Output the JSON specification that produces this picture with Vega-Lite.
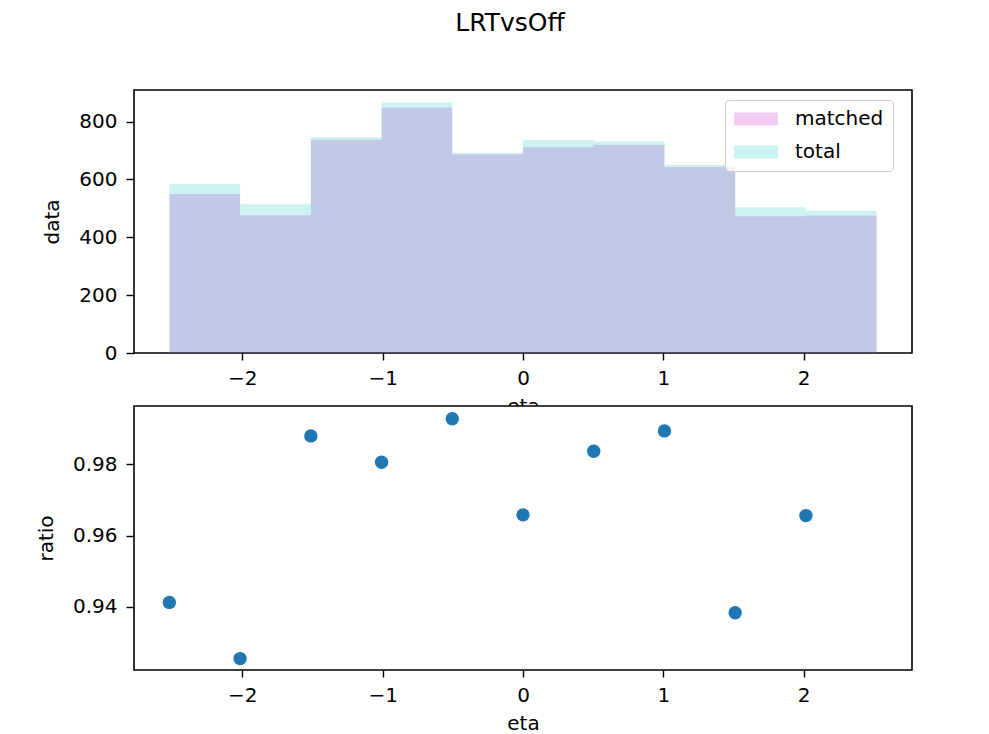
{
  "$schema": "https://vega.github.io/schema/vega-lite/v6.json",
  "background": "white",
  "padding": {"left": 35, "top": 11, "right": 5, "bottom": 5},
  "title": {
    "text": "LRTvsOff",
    "font": "DejaVu Sans",
    "fontSize": 25,
    "fontWeight": "normal",
    "color": "black",
    "anchor": "middle",
    "frame": "group",
    "dx": -13,
    "offset": 53
  },
  "datasets": {
    "hist": [
      {"series": "matched", "lo": -2.52, "hi": -2.016, "count": 550},
      {"series": "matched", "lo": -2.016, "hi": -1.512, "count": 476},
      {"series": "matched", "lo": -1.512, "hi": -1.008, "count": 737},
      {"series": "matched", "lo": -1.008, "hi": -0.504, "count": 849},
      {"series": "matched", "lo": -0.504, "hi": 0, "count": 687},
      {"series": "matched", "lo": 0, "hi": 0.504, "count": 711},
      {"series": "matched", "lo": 0.504, "hi": 1.008, "count": 719},
      {"series": "matched", "lo": 1.008, "hi": 1.512, "count": 643},
      {"series": "matched", "lo": 1.512, "hi": 2.016, "count": 473},
      {"series": "matched", "lo": 2.016, "hi": 2.52, "count": 475},
      {"series": "total", "lo": -2.52, "hi": -2.016, "count": 584},
      {"series": "total", "lo": -2.016, "hi": -1.512, "count": 514},
      {"series": "total", "lo": -1.512, "hi": -1.008, "count": 746},
      {"series": "total", "lo": -1.008, "hi": -0.504, "count": 866},
      {"series": "total", "lo": -0.504, "hi": 0, "count": 692},
      {"series": "total", "lo": 0, "hi": 0.504, "count": 736},
      {"series": "total", "lo": 0.504, "hi": 1.008, "count": 731},
      {"series": "total", "lo": 1.008, "hi": 1.512, "count": 650},
      {"series": "total", "lo": 1.512, "hi": 2.016, "count": 504},
      {"series": "total", "lo": 2.016, "hi": 2.52, "count": 492}
    ],
    "ratio": [
      {"eta": -2.52, "ratio": 0.9412},
      {"eta": -2.016, "ratio": 0.9254},
      {"eta": -1.512, "ratio": 0.988},
      {"eta": -1.008, "ratio": 0.9806},
      {"eta": -0.504, "ratio": 0.9928},
      {"eta": 0, "ratio": 0.9658},
      {"eta": 0.504, "ratio": 0.9837},
      {"eta": 1.008, "ratio": 0.9894},
      {"eta": 1.512, "ratio": 0.9383},
      {"eta": 2.016, "ratio": 0.9656}
    ]
  },
  "spacing": 53,
  "bounds": "flush",
  "vconcat": [
    {
      "width": 778,
      "height": 263,
      "data": {"name": "hist"},
      "mark": {"type": "rect", "fillOpacity": 0.2, "strokeWidth": 0},
      "encoding": {
        "x": {
          "field": "lo",
          "type": "quantitative",
          "scale": {"domain": [-2.772, 2.772], "nice": false, "zero": false},
          "axis": {"values": [-2, -1, 0, 1, 2], "title": "eta", "titlePadding": 8}
        },
        "x2": {"field": "hi"},
        "y": {
          "field": "count",
          "type": "quantitative",
          "scale": {"domain": [0, 909.3], "nice": false},
          "axis": {"values": [0, 200, 400, 600, 800], "title": "data", "titlePadding": 16, "labelPadding": 9, "tickSize": 8}
        },
        "y2": {"datum": 0},
        "color": {
          "field": "series",
          "type": "nominal",
          "scale": {"domain": ["matched", "total"], "range": ["#bf00bf", "#00bfbf"]},
          "legend": {
            "title": null,
            "orient": "none",
            "legendX": 591,
            "legendY": 10,
            "symbolType": "M-1,-0.66H3.4V0.66H-1Z",
            "symbolSize": 400,
            "symbolOpacity": 0.2,
            "symbolStrokeWidth": 0,
            "labelFont": "DejaVu Sans",
            "labelFontSize": 20,
            "labelColor": "black",
            "labelOffset": 41,
            "rowPadding": 13,
            "padding": 9,
            "fillColor": "rgba(255,255,255,0.8)",
            "strokeColor": "#cccccc",
            "cornerRadius": 4
          }
        }
      }
    },
    {
      "width": 778,
      "height": 264,
      "data": {"name": "ratio"},
      "mark": {"type": "point", "filled": true, "size": 180, "opacity": 1, "color": "#1f77b4"},
      "encoding": {
        "x": {
          "field": "eta",
          "type": "quantitative",
          "scale": {"domain": [-2.772, 2.772], "nice": false, "zero": false},
          "axis": {"values": [-2, -1, 0, 1, 2], "title": "eta", "titlePadding": 8}
        },
        "y": {
          "field": "ratio",
          "type": "quantitative",
          "scale": {"domain": [0.9222, 0.9964], "nice": false, "zero": false},
          "axis": {"values": [0.94, 0.96, 0.98], "format": ".2f", "title": "ratio", "titlePadding": 16, "labelPadding": 9, "tickSize": 8}
        }
      }
    }
  ],
  "config": {
    "font": "DejaVu Sans",
    "view": {"stroke": "black", "strokeWidth": 1.6, "fill": "white"},
    "axis": {
      "domain": false,
      "grid": false,
      "ticks": true,
      "tickColor": "black",
      "tickSize": 7,
      "tickWidth": 1.4,
      "labelFont": "DejaVu Sans",
      "labelFontSize": 20,
      "labelColor": "black",
      "labelPadding": 8,
      "titleFont": "DejaVu Sans",
      "titleFontSize": 20,
      "titleFontWeight": "normal",
      "titleColor": "black"
    }
  }
}
